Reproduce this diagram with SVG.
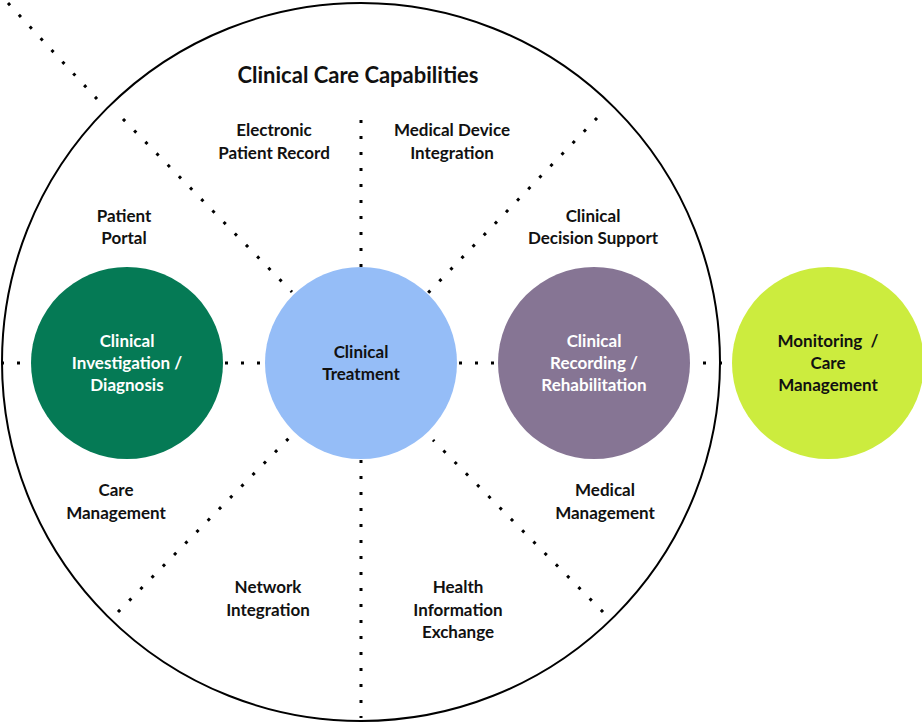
<svg xmlns="http://www.w3.org/2000/svg" width="922" height="724" viewBox="0 0 922 724">
  <style>
    .dots { fill: none; stroke: #000; stroke-width: 3; stroke-dasharray: 3 13; }
    .ring { fill: none; stroke: #000; stroke-width: 2; }
    text { font-family: Lato, "Liberation Sans", sans-serif; font-weight: bold; font-size: 17px; text-anchor: middle; fill: #111; }
    .title { font-size: 22px; }
    .light { fill: #fff; }
  </style>
  <rect width="922" height="724" fill="#fff"/>

  <!-- outer capability ring -->
  <g id="capabilities">
    <circle class="ring" cx="361" cy="362" r="359"/>
    <text class="title" x="358" y="83">Clinical Care Capabilities</text>
  </g>

  <!-- dotted dividers -->
  <g id="connectors">
    <path class="dots" d="M8 3 L97 99"/>
    <path class="dots" d="M123 119 L292 292"/>
    <path class="dots" d="M361 120 L361 268"/>
    <path class="dots" d="M597 118 L428 293"/>
    <path class="dots" d="M603 612 L433 440"/>
    <path class="dots" d="M118 612 L289 438"/>
    <path class="dots" d="M361 460 L361 718"/>
    <path class="dots" d="M1 363 L31 363"/>
    <path class="dots" d="M225 363 L266 363"/>
    <path class="dots" d="M459 363 L499 363"/>
    <path class="dots" d="M703 363 L733 363"/>
  </g>

  <g id="electronic-patient-record">
    <text x="274" y="136">Electronic</text>
    <text x="274" y="159">Patient Record</text>
  </g>
  <g id="medical-device-integration">
    <text x="452" y="136">Medical Device</text>
    <text x="452" y="159">Integration</text>
  </g>
  <g id="patient-portal">
    <text x="124" y="222">Patient</text>
    <text x="124" y="244">Portal</text>
  </g>
  <g id="clinical-decision-support">
    <text x="593" y="222">Clinical</text>
    <text x="593" y="244">Decision Support</text>
  </g>
  <g id="care-management">
    <text x="116" y="496">Care</text>
    <text x="116" y="519">Management</text>
  </g>
  <g id="medical-management">
    <text x="605" y="496">Medical</text>
    <text x="605" y="519">Management</text>
  </g>
  <g id="network-integration">
    <text x="268" y="593">Network</text>
    <text x="268" y="616">Integration</text>
  </g>
  <g id="health-information-exchange">
    <text x="458" y="593">Health</text>
    <text x="458" y="616">Information</text>
    <text x="458" y="638">Exchange</text>
  </g>

  <g id="clinical-investigation">
    <circle cx="127" cy="363" r="96" fill="#057A55"/>
    <text class="light" x="127" y="347">Clinical</text>
    <text class="light" x="127" y="369">Investigation /</text>
    <text class="light" x="127" y="391">Diagnosis</text>
  </g>
  <g id="clinical-treatment">
    <circle cx="361" cy="363" r="96" fill="#95BDF7"/>
    <text x="361" y="358">Clinical</text>
    <text x="361" y="380">Treatment</text>
  </g>
  <g id="clinical-recording">
    <circle cx="594" cy="363" r="96" fill="#867594"/>
    <text class="light" x="594" y="347">Clinical</text>
    <text class="light" x="594" y="369">Recording /</text>
    <text class="light" x="594" y="391">Rehabilitation</text>
  </g>
  <g id="monitoring">
    <circle cx="828" cy="363" r="96" fill="#CCEC3E"/>
    <text x="828" y="347" xml:space="preserve">Monitoring  /</text>
    <text x="828" y="369">Care</text>
    <text x="828" y="391">Management</text>
  </g>
</svg>
